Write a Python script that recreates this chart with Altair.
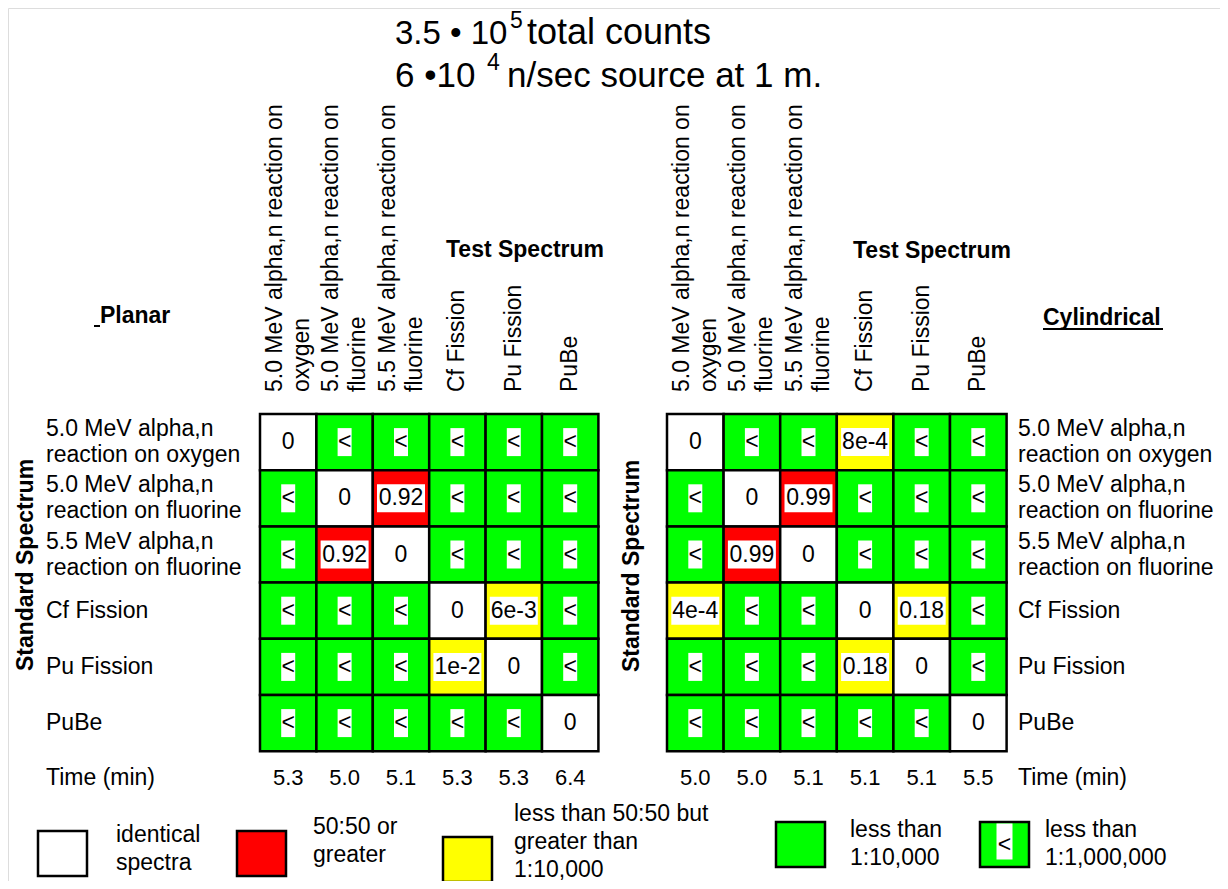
import altair as alt
import pandas as pd

# ------------------------------------------------------------------ data
test_spectra = [
    ["5.0 MeV alpha,n reaction on", "oxygen"],
    ["5.0 MeV alpha,n reaction on", "fluorine"],
    ["5.5 MeV alpha,n reaction on", "fluorine"],
    ["Cf Fission"],
    ["Pu Fission"],
    ["PuBe"],
]
standard_spectra = [
    ["5.0 MeV alpha,n", "reaction on oxygen"],
    ["5.0 MeV alpha,n", "reaction on fluorine"],
    ["5.5 MeV alpha,n", "reaction on fluorine"],
    ["Cf Fission"],
    ["Pu Fission"],
    ["PuBe"],
]
planar_values = [
    ["0", "<", "<", "<", "<", "<"],
    ["<", "0", "0.92", "<", "<", "<"],
    ["<", "0.92", "0", "<", "<", "<"],
    ["<", "<", "<", "0", "6e-3", "<"],
    ["<", "<", "<", "1e-2", "0", "<"],
    ["<", "<", "<", "<", "<", "0"],
]
cylindrical_values = [
    ["0", "<", "<", "8e-4", "<", "<"],
    ["<", "0", "0.99", "<", "<", "<"],
    ["<", "0.99", "0", "<", "<", "<"],
    ["4e-4", "<", "<", "0", "0.18", "<"],
    ["<", "<", "<", "0.18", "0", "<"],
    ["<", "<", "<", "<", "<", "0"],
]
planar_times = ["5.3", "5.0", "5.1", "5.3", "5.3", "6.4"]
cylindrical_times = ["5.0", "5.0", "5.1", "5.1", "5.1", "5.5"]
legend_categories = ["identical", "ge50", "between", "lt1e4", "lt1e6"]
legend_texts = [
    ["identical", "spectra"],
    ["50:50 or", "greater"],
    ["less than 50:50 but", "greater than", "1:10,000"],
    ["less than", "1:10,000"],
    ["less than", "1:1,000,000"],
]
title_line1 = ["3.5 \u2022 10", "5", "total counts"]
title_line2 = ["6 \u202210", "4", "n/sec source at 1 m."]

# ------------------------------------------------------------------ style / layout
FONT = "Liberation Sans"
FILL = {"identical": "#ffffff", "ge50": "#ff0000", "between": "#ffff00",
        "lt1e4": "#00ff00", "lt1e6": "#00ff00"}


def classify(v):
    if v == "0":
        return "identical"
    if v == "<":
        return "lt1e6"
    f = float(v)
    if f >= 0.5:
        return "ge50"
    if f > 1e-4:
        return "between"
    return "lt1e4"


PAGE_W, PAGE_H, M = 1228, 889, 8
W, H = PAGE_W - 2 * M, PAGE_H - 2 * M
xs = alt.Scale(domain=[M, PAGE_W - M], range=[0, W], nice=False, zero=False)
ys = alt.Scale(domain=[M, PAGE_H - M], range=[0, H], nice=False, zero=False)

Y0, CH = 414, 56.2
HEAD_LH, ROW_LH, LEG_LH = 27, 26, 28
panels = [
    dict(name="Planar", values=planar_values, times=planar_times, x0=260, cw=56.4,
         name_x=100, name_y=323, label_x=46, std_x=26, std_y=565, test_x=446, test_y=257),
    dict(name="Cylindrical", values=cylindrical_values, times=cylindrical_times, x0=667, cw=56.6,
         name_x=1043, name_y=325, label_x=1018, std_x=632, std_y=566, test_x=853, test_y=258),
]

cells, headers, rows, times, bold, stds = [], [], [], [], [], []
for p in panels:
    for r, row in enumerate(p["values"]):
        for c, v in enumerate(row):
            cat = classify(v)
            cells.append(dict(
                x=p["x0"] + c * p["cw"], x2=p["x0"] + (c + 1) * p["cw"],
                y=Y0 + r * CH, y2=Y0 + (r + 1) * CH,
                cx=p["x0"] + (c + 0.5) * p["cw"], cy=Y0 + (r + 0.5) * CH,
                label=v, fill=FILL[cat],
                kind="narrow" if v == "<" else ("none" if v == "0" else "wide")))
    for c, lab in enumerate(test_spectra):
        cxc = p["x0"] + (c + 0.5) * p["cw"]
        headers.append(dict(x=cxc - (len(lab) - 1) * HEAD_LH / 2, y=392, lines=lab))
    for r, lab in enumerate(standard_spectra):
        cyc = Y0 + (r + 0.5) * CH
        rows.append(dict(x=p["label_x"], y=cyc - (len(lab) - 1) * ROW_LH / 2, lines=lab))
    for c, t in enumerate(p["times"]):
        times.append(dict(x=p["x0"] + (c + 0.5) * p["cw"], y=778, text=t, align="center"))
    times.append(dict(x=p["label_x"], y=778, text="Time (min)", align="left"))
    bold.append(dict(x=p["test_x"], y=p["test_y"], text="Test Spectrum"))
    bold.append(dict(x=p["name_x"], y=p["name_y"], text=p["name"]))
    stds.append(dict(x=p["std_x"], y=p["std_y"], text="Standard Spectrum"))

cells_df = pd.DataFrame(cells)
headers_df = pd.DataFrame(headers)
rows_df = pd.DataFrame(rows)
times_df = pd.DataFrame(times)
bold_df = pd.DataFrame(bold)
stds_df = pd.DataFrame(stds)

title_df = pd.DataFrame([
    dict(x=395, y=44, text=title_line1[0], fs=33),
    dict(x=510, y=28, text=title_line1[1], fs=23),
    dict(x=527, y=44, text=title_line1[2], fs=36),
    dict(x=395, y=87, text=title_line2[0], fs=35),
    dict(x=487, y=70, text=title_line2[1], fs=23),
    dict(x=507, y=87, text=title_line2[2], fs=35),
])

legend_pos = [
    dict(bx=38, by=831, tx=116, ty=849),
    dict(bx=237, by=831, tx=313, ty=841),
    dict(bx=443, by=837, tx=514, ty=842),
    dict(bx=776, by=822, tx=850, ty=844),
    dict(bx=980, by=822, tx=1045, ty=844),
]
legend = []
for cat, txt, pos in zip(legend_categories, legend_texts, legend_pos):
    legend.append(dict(x=pos["bx"], x2=pos["bx"] + 49, y=pos["by"], y2=pos["by"] + 45,
                       cx=pos["bx"] + 24.5, cy=pos["by"] + 22.5,
                       fill=FILL[cat], tx=pos["tx"],
                       ty=pos["ty"] - (len(txt) - 1) * LEG_LH / 2, lines=txt,
                       mark="<" if cat == "lt1e6" else ""))
legend_df = pd.DataFrame(legend)

underline_df = pd.DataFrame([
    dict(x=94, x2=100, y=326),
    dict(x=1043, x2=1163, y=329),
])

X = lambda f: alt.X(f, scale=xs, axis=None)
Y = lambda f: alt.Y(f, scale=ys, axis=None)

# ------------------------------------------------------------------ layers
cell_rect = alt.Chart(cells_df).mark_rect(stroke="black", strokeWidth=2.5).encode(
    x=X("x:Q"), x2="x2:Q", y=Y("y:Q"), y2="y2:Q", fill=alt.Fill("fill:N", scale=None))

narrow_box = alt.Chart(cells_df).transform_filter("datum.kind == 'narrow'").mark_rect(
    fill="white", xOffset=-7, x2Offset=7, yOffset=-14, y2Offset=14).encode(
    x=X("cx:Q"), x2="cx:Q", y=Y("cy:Q"), y2="cy:Q")

wide_box = alt.Chart(cells_df).transform_filter("datum.kind == 'wide'").mark_rect(
    fill="white", xOffset=-24, x2Offset=24, yOffset=-14, y2Offset=14).encode(
    x=X("cx:Q"), x2="cx:Q", y=Y("cy:Q"), y2="cy:Q")

cell_text = alt.Chart(cells_df).mark_text(
    font=FONT, fontSize=23, align="center", baseline="middle", color="black").encode(
    x=X("cx:Q"), y=Y("cy:Q"), text="label:N")

header_text = alt.Chart(headers_df).mark_text(
    font=FONT, fontSize=23, angle=270, align="left", baseline="middle",
    lineHeight=HEAD_LH, color="black").encode(x=X("x:Q"), y=Y("y:Q"), text="lines:N")

row_text = alt.Chart(rows_df).mark_text(
    font=FONT, fontSize=23, align="left", baseline="middle",
    lineHeight=ROW_LH, color="black").encode(x=X("x:Q"), y=Y("y:Q"), text="lines:N")

time_center = alt.Chart(times_df).transform_filter("datum.align == 'center'").mark_text(
    font=FONT, fontSize=22, align="center", baseline="middle", color="black").encode(
    x=X("x:Q"), y=Y("y:Q"), text="text:N")
time_left = alt.Chart(times_df).transform_filter("datum.align == 'left'").mark_text(
    font=FONT, fontSize=23, align="left", baseline="middle", color="black").encode(
    x=X("x:Q"), y=Y("y:Q"), text="text:N")

bold_text = alt.Chart(bold_df).mark_text(
    font=FONT, fontSize=23, fontWeight="bold", align="left", baseline="alphabetic",
    color="black").encode(x=X("x:Q"), y=Y("y:Q"), text="text:N")

std_text = alt.Chart(stds_df).mark_text(
    font=FONT, fontSize=23, fontWeight="bold", angle=270, align="center",
    baseline="middle", color="black").encode(x=X("x:Q"), y=Y("y:Q"), text="text:N")

title_text = alt.Chart(title_df).mark_text(
    font=FONT, align="left", baseline="alphabetic", color="black").encode(
    x=X("x:Q"), y=Y("y:Q"), text="text:N", size=alt.Size("fs:Q", scale=None))

underline = alt.Chart(underline_df).mark_rule(color="black", strokeWidth=2).encode(
    x=X("x:Q"), x2="x2:Q", y=Y("y:Q"))

legend_rect = alt.Chart(legend_df).mark_rect(stroke="black", strokeWidth=2.5).encode(
    x=X("x:Q"), x2="x2:Q", y=Y("y:Q"), y2="y2:Q", fill=alt.Fill("fill:N", scale=None))
legend_box = alt.Chart(legend_df).transform_filter("datum.mark == '<'").mark_rect(
    fill="white", xOffset=-8, x2Offset=8, yOffset=-21, y2Offset=15).encode(
    x=X("cx:Q"), x2="cx:Q", y=Y("cy:Q"), y2="cy:Q")
legend_mark = alt.Chart(legend_df).transform_filter("datum.mark == '<'").mark_text(
    font=FONT, fontSize=23, align="center", baseline="middle", color="black").encode(
    x=X("cx:Q"), y=Y("cy:Q"), text="mark:N")
legend_text = alt.Chart(legend_df).mark_text(
    font=FONT, fontSize=23, align="left", baseline="middle", lineHeight=LEG_LH,
    color="black").encode(x=X("tx:Q"), y=Y("ty:Q"), text="lines:N")

chart = alt.layer(
    cell_rect, narrow_box, wide_box, cell_text, header_text, row_text,
    time_center, time_left, bold_text, std_text, title_text, underline,
    legend_rect, legend_box, legend_mark, legend_text,
).properties(
    width=W, height=H, padding=0,
    autosize=alt.AutoSizeParams(type="none"),
).configure_view(stroke=None).configure(background="white")

chart.save("out.html", embed_options={"renderer": "svg", "actions": False})
